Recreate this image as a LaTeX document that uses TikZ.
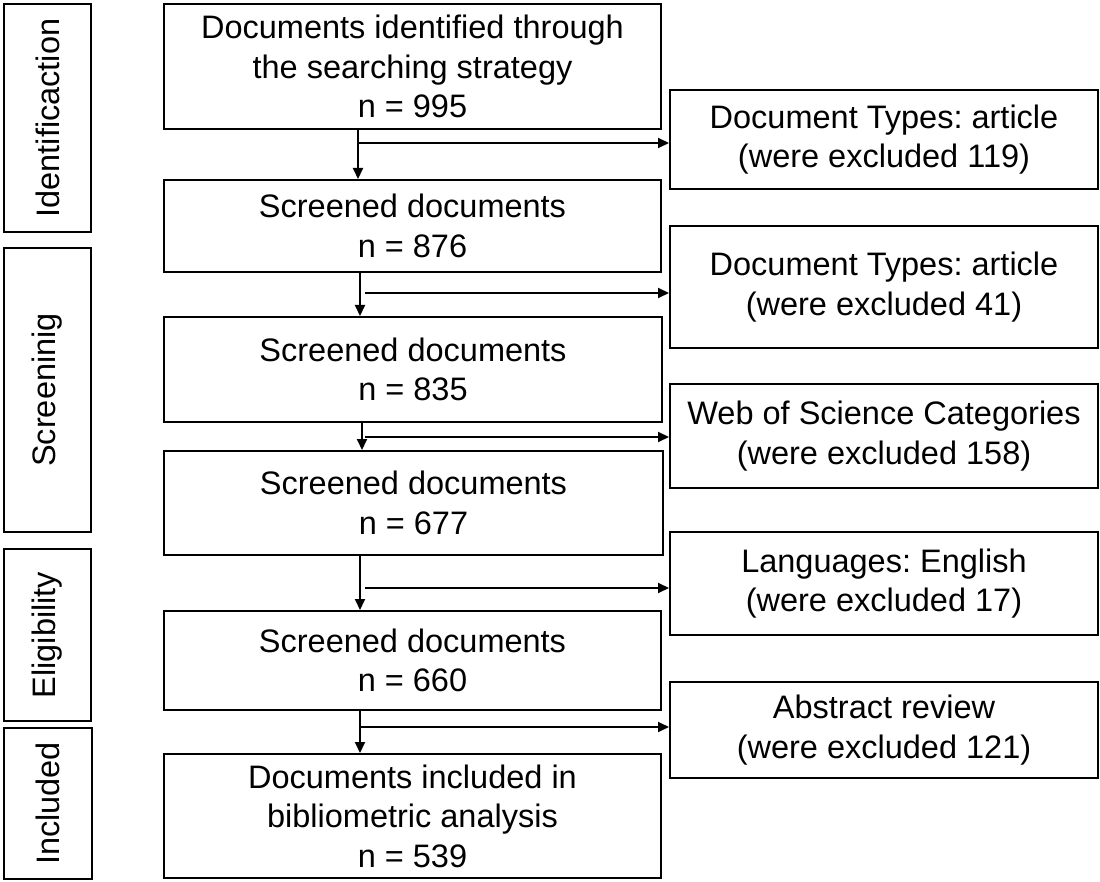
\documentclass[tikz,border=0pt]{standalone}
\usepackage{fontspec}
\setmainfont{Liberation Sans}
\usetikzlibrary{arrows.meta}
\frenchspacing
\begin{document}
\begin{tikzpicture}[x=1pt,y=-1pt,
  line width=2pt,
  boxstyle/.style={draw=black, line width=2pt, rectangle, anchor=north west, inner sep=0pt,
    align=center, font=\fontsize{32.5}{39.5}\selectfont},
  sidestyle/.style={draw=black, line width=2pt, rectangle, anchor=north west, inner sep=0pt},
  sidetext/.style={rotate=90, font=\fontsize{32.5}{39}\selectfont},
  arr/.style={-{Triangle[length=11pt,width=10pt]}, line width=2pt}]
\useasboundingbox (0,0) rectangle (1100,882);

% side stage boxes
\node[sidestyle, minimum width=87pt, minimum height=228pt] (s1) at (3,3) {};
\node[sidetext] at (s1.center) {Identificaction};
\node[sidestyle, minimum width=87pt, minimum height=284pt] (s2) at (3,247) {};
\node[sidetext] at (s2.center) {Screeninig};
\node[sidestyle, minimum width=87pt, minimum height=172pt] (s3) at (3,548) {};
\node[sidetext] at (s3.center) {Eligibility};
\node[sidestyle, minimum width=88pt, minimum height=151pt] (s4) at (3,727) {};
\node[sidetext] at (s4.center) {Included};

% main boxes
\node[boxstyle, minimum width=497pt, minimum height=125pt] (b1) at (163,3)
  {Documents identified through\\the searching strategy\\n = 995};
\node[boxstyle, minimum width=497pt, minimum height=92pt] (b2) at (163,179)
  {Screened documents\\n = 876};
\node[boxstyle, minimum width=498pt, minimum height=105pt] (b3) at (163,316)
  {Screened documents\\n = 835};
\node[boxstyle, minimum width=499pt, minimum height=104pt] (b4) at (163,450)
  {Screened documents\\n = 677};
\node[boxstyle, minimum width=497pt, minimum height=99pt] (b5) at (163,610)
  {Screened documents\\n = 660};
\node[boxstyle, minimum width=497pt, minimum height=124pt] (b6) at (163,753)
  {Documents included in\\bibliometric analysis\\n = 539};

% exclusion boxes
\node[boxstyle, minimum width=428pt, minimum height=99pt] (r1) at (669,89)
  {Document Types: article\\(were excluded 119)};
\node[boxstyle, minimum width=428pt, minimum height=122pt] (r2) at (669,225)
  {Document Types: article\\(were excluded 41)};
\node[boxstyle, minimum width=428pt, minimum height=104pt] (r3) at (669,383)
  {Web of Science Categories\\(were excluded 158)};
\node[boxstyle, minimum width=428pt, minimum height=103pt] (r4) at (669,531)
  {Languages: English\\(were excluded 17)};
\node[boxstyle, minimum width=428pt, minimum height=96pt] (r5) at (669,681)
  {Abstract review\\(were excluded 121)};

% vertical flow
\coordinate (v1) at (358,0);
\coordinate (v2) at (360,0);
\coordinate (v3) at (362,0);
\draw[arr] (b1.south -| v1) -- (b2.north -| v1);
\draw[arr] (b2.south -| v2) -- (b3.north -| v2);
\draw[arr] (b3.south -| v3) -- (b4.north -| v3);
\draw[arr] (b4.south -| v2) -- (b5.north -| v2);
\draw[arr] (b5.south -| v2) -- (b6.north -| v2);

% horizontal exclusions
\coordinate (h1) at (358,143);
\coordinate (h2) at (365,293);
\coordinate (h3) at (365,437);
\coordinate (h4) at (365,588);
\coordinate (h5) at (360,727);
\draw[arr] (h1) -- (h1 -| r1.west);
\draw[arr] (h2) -- (h2 -| r2.west);
\draw[arr] (h3) -- (h3 -| r3.west);
\draw[arr] (h4) -- (h4 -| r4.west);
\draw[arr] (h5) -- (h5 -| r5.west);
\end{tikzpicture}
\end{document}
